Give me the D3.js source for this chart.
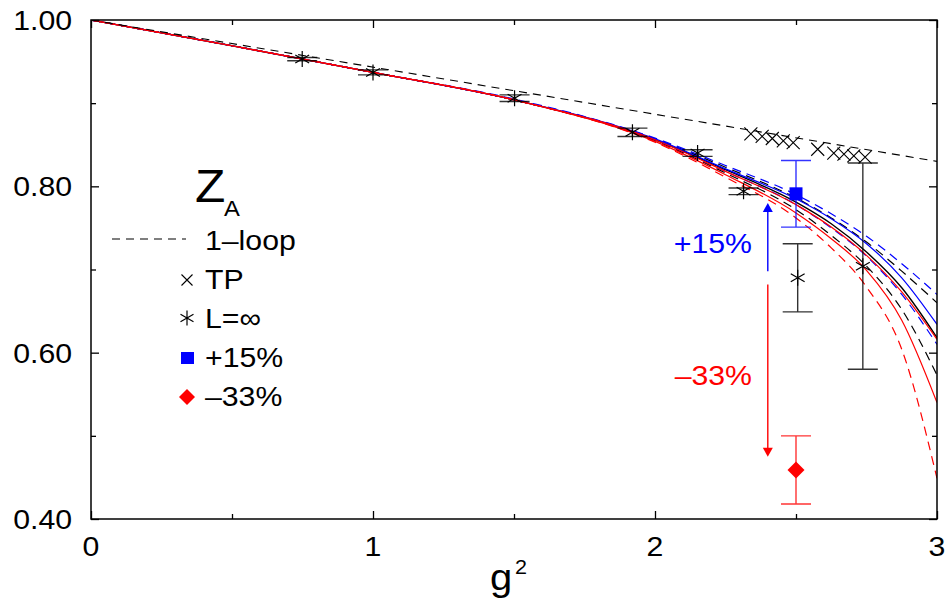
<!DOCTYPE html>
<html lang="en">
<head>
<meta charset="UTF-8">
<title>Z_A vs g^2</title>
<script src="https://d3js.org/d3.v7.min.js"></script>
<style>
  body { margin: 0; background: #fff; }
  svg text { font-family: "Liberation Sans", Arial, sans-serif; }
</style>
</head>
<body>
<svg id="chart" width="945" height="605"></svg>
<script>
// ---- data ----
const gGrid   = [0, 0.5, 1, 1.5, 2, 2.25, 2.5, 2.625, 2.75, 2.875, 3];
// fit curves: black, blue, red (centre solid, bands dashed)
const blackMid = [1.000, 0.969, 0.937, 0.904, 0.856, 0.820, 0.781, 0.755, 0.721, 0.678, 0.618];
const blackHi  = [1.000, 0.969, 0.937, 0.904, 0.857, 0.823, 0.786, 0.762, 0.733, 0.698, 0.660];
const blackLo  = [1.000, 0.969, 0.937, 0.904, 0.855, 0.816, 0.772, 0.741, 0.704, 0.652, 0.573];
const blueMid  = [1.000, 0.969, 0.937, 0.904, 0.857, 0.821, 0.785, 0.761, 0.731, 0.690, 0.634];
const blueHi   = [1.000, 0.969, 0.937, 0.905, 0.858, 0.825, 0.790, 0.767, 0.740, 0.707, 0.670];
const blueLo   = [1.000, 0.969, 0.937, 0.904, 0.856, 0.818, 0.778, 0.750, 0.716, 0.670, 0.610];
const redHi    = [1.000, 0.969, 0.937, 0.904, 0.856, 0.818, 0.778, 0.751, 0.717, 0.673, 0.616];
const redMid   = [1.000, 0.969, 0.937, 0.904, 0.854, 0.814, 0.768, 0.737, 0.699, 0.639, 0.540];
const redLo    = [1.000, 0.969, 0.937, 0.904, 0.853, 0.811, 0.762, 0.726, 0.679, 0.604, 0.449];

// 1-loop perturbative line
const loopG = [0, 3];
const loopZ = [1.0, 0.830];

// TP points
const tpG = [2.34, 2.38, 2.416, 2.455, 2.49, 2.577, 2.634, 2.67, 2.705, 2.745];
const tpZ = [0.863, 0.860, 0.8575, 0.8546, 0.8526, 0.8446, 0.8398, 0.8386, 0.8365, 0.835];

// L = infinity points
const infG   = [0.749, 1.0, 1.502, 1.92, 2.151, 2.314, 2.506, 2.737];
const infZ   = [0.953, 0.937, 0.906, 0.865, 0.840, 0.794, 0.690, 0.704];
const infErr = [0.002, 0.003, 0.004, 0.005, 0.004, 0.004, 0.041, 0.124];

// shifted points
const plusG = [2.5],  plusZ = [0.791],  plusErr = [0.040];
const minusG = [2.5], minusZ = [0.459], minusErr = [0.041];

// arrows (g2, from, to)
const arrowG = 2.40;
const blueArrow = [0.698, 0.780];
const redArrow  = [0.682, 0.475];

const xTicks = [0, 1, 2, 3];
const xMinor = [0.5, 1.5, 2.5];
const yTicks = [0.4, 0.6, 0.8, 1.0];
const yMinor = [0.5, 0.7, 0.9];
const yTickLabels = ['0.40', '0.60', '0.80', '1.00'];

const legendLabels = ['1\u2013loop', 'TP', 'L=\u221e', '+15%', '\u201333%'];

// ---- drawing ----
const svg = d3.select('#chart');
const x = d3.scaleLinear().domain([0, 3]).range([91, 937]);
const y = d3.scaleLinear().domain([0.4, 1.0]).range([519, 20]);
const BLUE = '#0000ff', RED = '#ff0000';
const SX = 1.08; // the original glyphs are a little wide

function txt(px, py, s, size, anchor, color) {
    return svg.append('text')
        .attr('transform', `translate(${px},${py}) scale(${SX},1)`)
        .attr('text-anchor', anchor || 'start')
        .attr('font-size', size)
        .attr('fill', color || '#000')
        .text(s);
}

// axes ticks (inside, all four sides)
function ticks(axis, tr, vals, len) {
    svg.append('g').attr('transform', tr)
        .call(axis.tickValues(vals).tickSize(-len).tickSizeOuter(0).tickFormat(''))
        .call(g => g.select('.domain').remove())
        .call(g => g.selectAll('line').attr('stroke', '#000').attr('stroke-width', 1.3));
}
ticks(d3.axisBottom(x), 'translate(0,519)', xTicks, 8);
ticks(d3.axisBottom(x), 'translate(0,519)', xMinor, 5);
ticks(d3.axisTop(x), 'translate(0,20)', xTicks, 8);
ticks(d3.axisTop(x), 'translate(0,20)', xMinor, 5);
ticks(d3.axisLeft(y), 'translate(91,0)', yTicks, 8);
ticks(d3.axisLeft(y), 'translate(91,0)', yMinor, 5);
ticks(d3.axisRight(y), 'translate(937,0)', yTicks, 8);
ticks(d3.axisRight(y), 'translate(937,0)', yMinor, 5);

xTicks.forEach(v => txt(x(v), 556, String(v), 28, 'middle'));
yTicks.forEach((v, i) => txt(72, y(v) + 10, yTickLabels[i], 28, 'end'));

// axis title g^2
txt(501, 590, 'g', 37, 'middle');
txt(515, 574, '2', 20, 'start');

// plot curves
const clip = svg.append('clipPath').attr('id', 'clip')
    .append('rect').attr('x', 91).attr('y', 20).attr('width', 846).attr('height', 499);
const plot = svg.append('g').attr('clip-path', 'url(#clip)');

const line = d3.line().x(d => x(d[0])).y(d => y(d[1])).curve(d3.curveMonotoneX);
function curve(vals, color, dashed, w) {
    plot.append('path')
        .datum(gGrid.map((g, i) => [g, vals[i]]))
        .attr('d', line)
        .attr('fill', 'none')
        .attr('stroke', color)
        .attr('stroke-width', w || 1.2)
        .attr('stroke-dasharray', dashed ? '9,6' : null);
}
curve(blackHi, '#000', true);
curve(blackLo, '#000', true);
curve(blackMid, '#000', false, 1.4);
curve(blueHi, BLUE, true);
curve(blueLo, BLUE, true);
curve(blueMid, BLUE, false);
curve(redLo, RED, true);
curve(redMid, RED, false);
curve(redHi, RED, false);

// 1-loop
plot.append('path')
    .datum(loopG.map((g, i) => [g, loopZ[i]]))
    .attr('d', d3.line().x(d => x(d[0])).y(d => y(d[1])))
    .attr('fill', 'none').attr('stroke', '#000').attr('stroke-width', 1.1)
    .attr('stroke-dasharray', '8,6');

// symbol helpers
function crossPath(r) {
    return `M${-r},${-r}L${r},${r}M${-r},${r}L${r},${-r}`;
}
function starPath(r) {
    const t = r / 2, u = t * Math.sqrt(3);
    return `M0,${-r}L0,${r}M${-u},${-t}L${u},${t}M${-u},${t}L${u},${-t}`;
}
function diamondPath(r) {
    return `M0,${-r}L${r},0L0,${r}L${-r},0Z`;
}
function errBar(g, z, e, color) {
    const cx = x(g);
    svg.append('path')
        .attr('d', `M${cx},${y(z + e)}L${cx},${y(z - e)}` +
                   `M${cx - 15},${y(z + e)}L${cx + 15},${y(z + e)}` +
                   `M${cx - 15},${y(z - e)}L${cx + 15},${y(z - e)}`)
        .attr('fill', 'none').attr('stroke', color).attr('stroke-width', 1.4)
        .attr('stroke-opacity', 0.8);
}

// TP points
tpG.forEach((g, i) => {
    svg.append('path').attr('d', crossPath(6.5))
        .attr('transform', `translate(${x(g)},${y(tpZ[i])})`)
        .attr('stroke', '#000').attr('stroke-width', 1.1).attr('fill', 'none');
});

// L=inf points
infG.forEach((g, i) => {
    errBar(g, infZ[i], infErr[i], '#000');
    svg.append('path').attr('d', starPath(8))
        .attr('transform', `translate(${x(g)},${y(infZ[i])})`)
        .attr('stroke', '#000').attr('stroke-width', 1.2).attr('fill', 'none');
});

// +15% and -33%
plusG.forEach((g, i) => {
    errBar(g, plusZ[i], plusErr[i], BLUE);
    svg.append('rect').attr('x', x(g) - 6.5).attr('y', y(plusZ[i]) - 6.5)
        .attr('width', 13).attr('height', 13).attr('fill', BLUE);
});
minusG.forEach((g, i) => {
    errBar(g, minusZ[i], minusErr[i], RED);
    svg.append('path').attr('d', diamondPath(8.5))
        .attr('transform', `translate(${x(g)},${y(minusZ[i])})`)
        .attr('fill', RED);
});

// arrows
function arrow(from, to, color) {
    const ax = x(arrowG), y0 = y(from), y1 = y(to);
    const dir = y1 < y0 ? 1 : -1; // head points up when 1
    svg.append('line').attr('x1', ax).attr('x2', ax)
        .attr('y1', y0).attr('y2', y1 + dir * 8)
        .attr('stroke', color).attr('stroke-width', 1.4);
    svg.append('path')
        .attr('d', `M${ax},${y1}L${ax - 5},${y1 + dir * 9}L${ax + 5},${y1 + dir * 9}Z`)
        .attr('fill', color);
}
arrow(blueArrow[0], blueArrow[1], BLUE);
arrow(redArrow[0], redArrow[1], RED);

txt(752, 253, '+15%', 28, 'end', BLUE);
txt(752, 385, '\u201333%', 28, 'end', RED);

// legend
txt(195, 202, 'Z', 46, 'start');
txt(224, 216, 'A', 22, 'start');
svg.append('line').attr('x1', 112).attr('x2', 186).attr('y1', 239).attr('y2', 239)
    .attr('stroke', '#000').attr('stroke-width', 1.1).attr('stroke-dasharray', '8,6');
const legY = [250, 289, 328, 367, 406];
legendLabels.forEach((s, i) => txt(205, legY[i], s, 28, 'start'));
svg.append('path').attr('d', crossPath(5.5)).attr('transform', 'translate(187,280)')
    .attr('stroke', '#000').attr('stroke-width', 1.1).attr('fill', 'none');
svg.append('path').attr('d', starPath(7.5)).attr('transform', 'translate(187,318)')
    .attr('stroke', '#000').attr('stroke-width', 1.2).attr('fill', 'none');
svg.append('rect').attr('x', 181).attr('y', 352).attr('width', 13).attr('height', 12).attr('fill', BLUE);
svg.append('path').attr('d', diamondPath(8)).attr('transform', 'translate(187,397)').attr('fill', RED);

// frame
svg.append('rect').attr('x', 91).attr('y', 20).attr('width', 846).attr('height', 499)
    .attr('fill', 'none').attr('stroke', '#000').attr('stroke-width', 1.5);
</script>
</body>
</html>
